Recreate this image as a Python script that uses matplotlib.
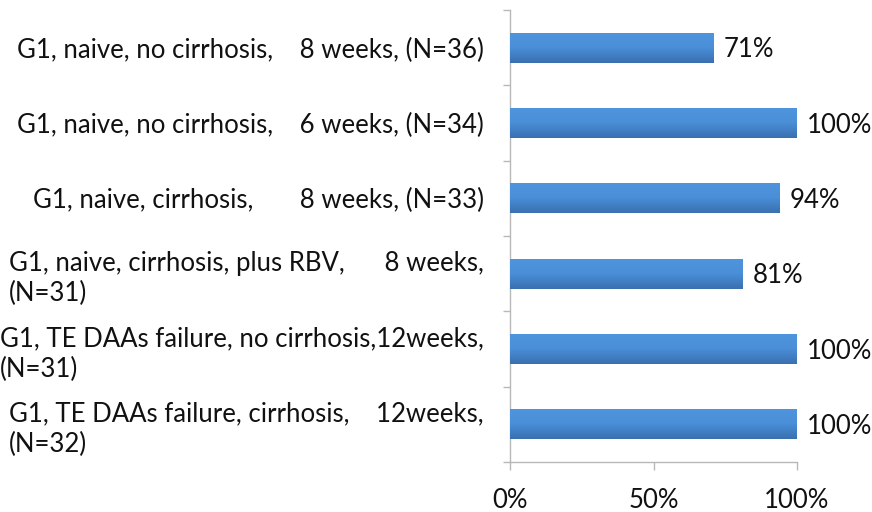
import matplotlib
matplotlib.use("Agg")
import matplotlib.pyplot as plt
import numpy as np
from matplotlib.colors import LinearSegmentedColormap

categories = [
    "G1, naive, no cirrhosis,    8 weeks, (N=36)",
    "G1, naive, no cirrhosis,    6 weeks, (N=34)",
    "G1, naive, cirrhosis,       8 weeks, (N=33)",
    "G1, naive, cirrhosis, plus RBV,      8 weeks,\n(N=31)",
    "G1, TE DAAs failure, no cirrhosis,12weeks,\n(N=31)",
    "G1, TE DAAs failure, cirrhosis,    12weeks,\n(N=32)",
]
values = [71, 100, 94, 81, 100, 100]
xticks = [0, 50, 100]
xticklabels = ["0%", "50%", "100%"]

FONT = "Lato"
FS = 18.5

fig = plt.figure(figsize=(8.72, 5.12), dpi=100)
ax = fig.add_axes([510/872, 1-462/512, (797-510)/872, (462-10)/512])

n = len(categories)
ypos = np.arange(n)[::-1]  # first category at top
bars = ax.barh(ypos, values, height=0.4, color="#4281c9", edgecolor="none", zorder=2)

cmap = LinearSegmentedColormap.from_list("g", ["#3a70b0", "#4a8fd8", "#4f95dd"])
grad = np.linspace(0, 1, 64).reshape(-1, 1)
for b in bars:
    x0, y0 = b.get_x(), b.get_y()
    w, h = b.get_width(), b.get_height()
    im = ax.imshow(grad, cmap=cmap, aspect="auto", origin="lower",
                   extent=[x0, x0 + w, y0, y0 + h], zorder=3)
    im.set_clip_path(b)

for y, v in zip(ypos, values):
    ax.text(v + 3.6, y - 0.03, f"{v}%", va="center", ha="left",
            fontsize=FS, family=FONT, color="#111111")

ax.set_xlim(0, 100)
ax.set_ylim(-0.5, n - 0.5)
ax.set_xticks(xticks)
ax.set_xticklabels(xticklabels, fontsize=FS, family=FONT, color="#111111")
ax.set_yticks(ypos)
ax.set_yticklabels(categories, fontsize=FS, family=FONT, color="#111111",
                   ha="right", multialignment="left", linespacing=1.25)
ax.set_yticks(np.arange(-0.5, n, 1.0), minor=True)
ax.tick_params(axis="y", which="major", length=0, pad=19)
ax.tick_params(axis="y", which="minor", length=5, color="#b8b8b8", width=1)
ax.tick_params(axis="x", which="major", length=6, color="#b8b8b8", width=1, pad=13)

for s in ["top", "right"]:
    ax.spines[s].set_visible(False)
for s in ["left", "bottom"]:
    ax.spines[s].set_color("#b8b8b8")
    ax.spines[s].set_linewidth(1)

fig.savefig("out.png", dpi=100)
